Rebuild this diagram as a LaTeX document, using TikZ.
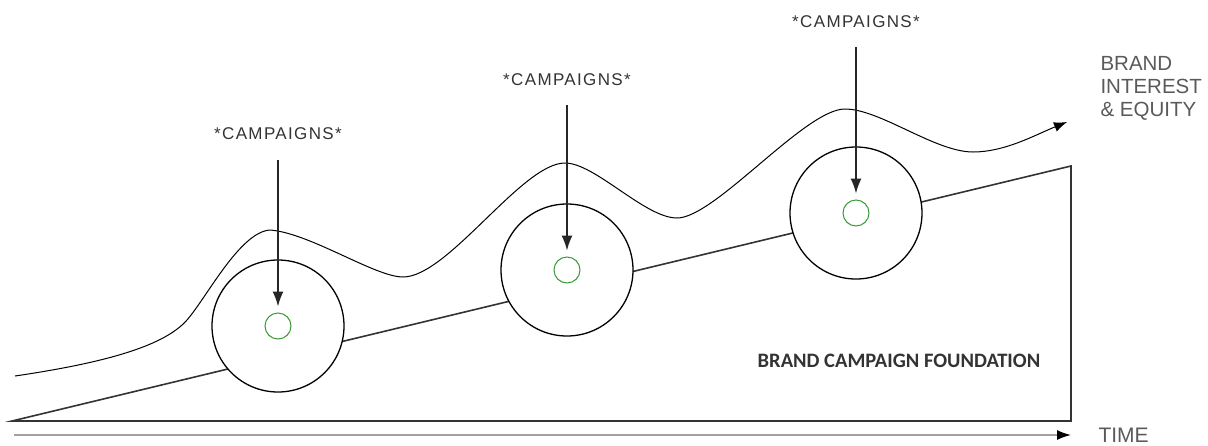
\documentclass[tikz,border=0pt]{standalone}
\usepackage{fontspec}
\setmainfont{Liberation Sans}
\newfontfamily\footfont{Carlito}
\usetikzlibrary{arrows.meta}
\definecolor{inkgray}{HTML}{333333}
\definecolor{axisgray}{HTML}{A0A0A0}
\definecolor{labelgray}{HTML}{5A5A5A}
\definecolor{dotgreen}{HTML}{3A9A3A}
\begin{document}
\begin{tikzpicture}[x=1pt,y=-1pt,
  campaign/.style={text=inkgray,font=\fontsize{17}{20}\selectfont\addfontfeatures{LetterSpace=8}},
  bubble/.style={draw=black,fill=white,line width=1.3pt,circle,minimum size=132pt,inner sep=0pt},
  dot/.style={draw=dotgreen,line width=1pt,circle,minimum size=26pt,inner sep=0pt},
  drop/.style={-{Latex[length=15pt,width=11pt]},line width=1.5pt,draw=black!85}]
  \useasboundingbox (0,0) rectangle (1208,445);

  % Foundation
  \coordinate (f0) at (12,421);
  \coordinate (f1) at (1071,166);
  \coordinate (f2) at (1071,421);
  \draw[draw=inkgray,line width=1.6pt,line join=miter] (f0) -- (f1) -- (f2) -- cycle;
  \node[text=inkgray,font=\footfont\bfseries\fontsize{20.5}{24}\selectfont] (found) at (899,361) {BRAND CAMPAIGN FOUNDATION};

  % Time axis
  \coordinate (t0) at (14,435);
  \coordinate (t1) at (1071,435);
  \draw[draw=axisgray,line width=1.5pt,-{Latex[length=14pt,width=10pt,color=black]}] (t0) to (t1);
  \node[anchor=west,text=labelgray,font=\fontsize{21}{24}\selectfont] (time) at (1095,435) {TIME};

  % Interest curve
  \coordinate (w0) at (15,376);
  \coordinate (w1) at (1067,122);
  \draw[line width=1pt,-{Latex[length=13pt,width=10pt]}] (w0)
    .. controls (110,362) and (165,345) .. (187,320)
    .. controls (207,297) and (240,232) .. (270,230)
    .. controls (310,233) and (375,277) .. (403,277)
    .. controls (448,277) and (522,163) .. (565,163)
    .. controls (595,163) and (645,218) .. (677,218)
    .. controls (715,218) and (805,109) .. (845,109)
    .. controls (880,109) and (935,152) .. (973,152)
    .. controls (1005,152) and (1035,135) .. (w1);
  \node[anchor=west,align=left,text=labelgray,font=\fontsize{20.5}{23}\selectfont] (equity) at (1097,88) {BRAND\\INTEREST\\\& EQUITY};

  % Campaigns
  \node[bubble] (bub1) at (278,326) {};
  \node[bubble] (bub2) at (567,270) {};
  \node[bubble] (bub3) at (856,213) {};
  \node[dot] (dot1) at (278,326) {};
  \node[dot] (dot2) at (567,270) {};
  \node[dot] (dot3) at (856,213) {};

  \node[campaign] (camp1) at (278,134) {*CAMPAIGNS*};
  \node[campaign] (camp2) at (567,80) {*CAMPAIGNS*};
  \node[campaign] (camp3) at (856,22) {*CAMPAIGNS*};

  \coordinate (top1) at (278,160);
  \coordinate (top2) at (567,105);
  \coordinate (top3) at (856,47);
  \draw[drop,shorten >=6pt] (top1) to (dot1.north);
  \draw[drop,shorten >=6pt] (top2) to (dot2.north);
  \draw[drop,shorten >=6pt] (top3) to (dot3.north);

\end{tikzpicture}
\end{document}
